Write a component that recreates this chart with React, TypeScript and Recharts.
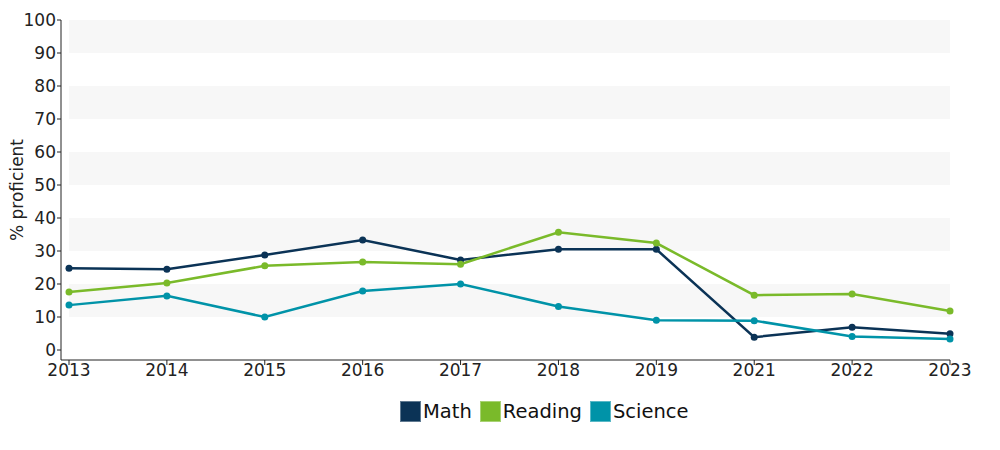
import React from "react";
import { LineChart, Line, XAxis, YAxis, ReferenceArea, Legend } from "recharts";

// values
const years = ["2013", "2014", "2015", "2016", "2017", "2018", "2019", "2021", "2022", "2023"];
const math = [24.8, 24.5, 28.8, 33.3, 27.3, 30.5, 30.5, 3.9, 6.9, 4.9];
const reading = [17.6, 20.3, 25.5, 26.7, 26.0, 35.7, 32.4, 16.6, 17.0, 11.8];
const science = [13.6, 16.4, 10.0, 17.9, 20.0, 13.2, 9.0, 8.9, 4.1, 3.3];
const yTicks = [0, 10, 20, 30, 40, 50, 60, 70, 80, 90, 100];
const bands = [
  [10, 20],
  [30, 40],
  [50, 60],
  [70, 80],
  [90, 100],
];

const series = [
  { key: "math", name: "Math", color: "#0b3356" },
  { key: "reading", name: "Reading", color: "#7aba2a" },
  { key: "science", name: "Science", color: "#0093a8" },
];

const data = years.map((y, i) => ({
  year: y,
  math: math[i],
  reading: reading[i],
  science: science[i],
}));

const font = "'DejaVu Sans', Verdana, sans-serif";
const textColor = "#222";

function LegendBox() {
  return (
    <div style={{ display: "flex", alignItems: "center", fontFamily: font, fontSize: 19.5, color: "#111" }}>
      {series.map((s) => (
        <div key={s.key} style={{ display: "flex", alignItems: "center", marginRight: 8 }}>
          <span
            style={{
              display: "inline-block",
              width: 19,
              height: 19,
              background: s.color,
              border: "1px solid rgba(255,255,255,0.35)",
              marginRight: 2,
            }}
          />
          <span>{s.name}</span>
        </div>
      ))}
    </div>
  );
}

export default function App() {
  return (
    <div style={{ width: 984, height: 434 }}>
      <LineChart
        width={984}
        height={434}
        data={data}
        margin={{ top: 12, right: 42, left: 0, bottom: 20 }}
      >
        {bands.map(([a, b]) => (
          <ReferenceArea
            key={a}
            x1="2013"
            x2="2023"
            y1={a}
            y2={b}
            fill="#f7f7f7"
            fillOpacity={1}
            stroke="none"
          />
        ))}
        <XAxis
          dataKey="year"
          height={40}
          padding={{ left: 8, right: 0 }}
          tickSize={5}
          tickMargin={-1}
          axisLine={{ stroke: textColor }}
          tickLine={{ stroke: textColor }}
          tick={{ fill: textColor, fontSize: 17, fontFamily: font }}
          interval={0}
        />
        <YAxis
          width={53}
          domain={[0, 100]}
          ticks={yTicks}
          padding={{ bottom: 10 }}
          tickSize={4}
          tickMargin={1}
          axisLine={{ stroke: textColor }}
          tickLine={{ stroke: textColor }}
          tick={{ fill: textColor, fontSize: 17, fontFamily: font }}
          label={{
            value: "% proficient",
            angle: -90,
            position: "insideLeft",
            offset: 9,
            style: { textAnchor: "middle", fill: textColor, fontSize: 17, fontFamily: font },
          }}
        />
        <Legend
          verticalAlign="bottom"
          align="left"
          content={() => <LegendBox />}
          wrapperStyle={{ left: 392, height: 22 }}
        />
        {series.map((s) => (
          <Line
            key={s.key}
            dataKey={s.key}
            name={s.name}
            stroke={s.color}
            strokeWidth={2.5}
            type="linear"
            dot={{ r: 3.5, fill: s.color, stroke: s.color, strokeWidth: 0 }}
            activeDot={false}
            isAnimationActive={false}
          />
        ))}
      </LineChart>
    </div>
  );
}
